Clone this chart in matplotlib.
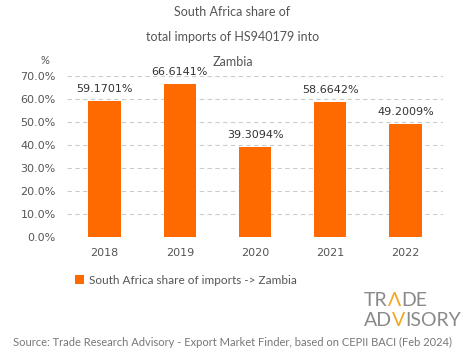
import matplotlib.pyplot as plt
from matplotlib.ticker import FuncFormatter
from matplotlib.offsetbox import TextArea, HPacker, AnnotationBbox

years = ["2018", "2019", "2020", "2021", "2022"]
shares = [59.1701, 66.6141, 39.3094, 58.6642, 49.2009]
bar_labels = ["59.1701%", "66.6141%", "39.3094%", "58.6642%", "49.2009%"]

orange = "#FF6A00"
grey = "#555555"

plt.rcParams["font.family"] = ["Lato", "DejaVu Sans"]

fig = plt.figure(figsize=(4.65, 3.59), dpi=100)
ax = fig.add_axes([67 / 465, 1 - 237 / 359, 376 / 465, 161 / 359])

x = range(len(years))
ax.bar(x, shares, width=0.43, color=orange, label="South Africa share of imports -> Zambia", zorder=3)
for i, v in enumerate(shares):
    ax.text(i, v + 3, bar_labels[i], ha="center", va="bottom", fontsize=8, color="#333333",
            family="DejaVu Sans")

ax.set_xlim(-0.5, 4.5)
ax.set_ylim(0, 70)
ax.set_yticks(range(0, 71, 10))
ax.yaxis.set_major_formatter(FuncFormatter(lambda v, p: f"{v:.1f}%"))
ax.set_xticks(list(x))
ax.set_xticklabels(years)
ax.tick_params(length=0, labelsize=8, colors=grey, pad=8)
for lab in ax.get_xticklabels() + ax.get_yticklabels():
    lab.set_family("DejaVu Sans")
ax.yaxis.grid(True, linestyle=(0, (4, 3)), color="#cccccc", linewidth=0.8, zorder=0)
for s in ax.spines.values():
    s.set_visible(False)

fig.text(0.5, 1 - 12 / 359, "South Africa share of", ha="center", va="center", fontsize=9, color=grey)
fig.text(0.5, 1 - 37 / 359, "total imports of HS940179 into", ha="center", va="center", fontsize=9, color=grey)
fig.text(0.5, 1 - 62 / 359, "Zambia", ha="center", va="center", fontsize=9, color=grey)
fig.text(45 / 465, 1 - 61 / 359, "%", ha="center", va="center", fontsize=8, color=grey)

ax.legend(loc="center left", bbox_to_anchor=(64 / 465, 1 - 280 / 359), bbox_transform=fig.transFigure,
          frameon=False, fontsize=8.5, handlelength=0.8, handleheight=0.8, handletextpad=0.4,
          labelcolor=grey)


# logo: two rows of text, one orange letter each
def logo_row(parts, x0, y, size):
    boxes = [TextArea(t, textprops=dict(color=c, fontsize=size)) for t, c in parts]
    row = HPacker(children=boxes, align="center", pad=0, sep=0)
    ab = AnnotationBbox(row, (x0, y), xycoords="figure fraction", box_alignment=(0, 0.5),
                        frameon=False)
    fig.add_artist(ab)


logo_grey = "#8a8a8a"
logo_orange = "#F5A623"
logo_row([("TR", logo_grey), ("\u039b", logo_orange), ("DE", logo_grey)], 364 / 465, 1 - 300 / 359, 14)
logo_row([("AD", logo_grey), ("V", logo_orange), ("ISORY", logo_grey)], 364 / 465, 1 - 320 / 359, 14)

fig.text(232 / 465, 1 - 342 / 359,
         "Source: Trade Research Advisory - Export Market Finder, based on CEPII BACI (Feb 2024)",
         ha="center", va="center", fontsize=8, color="#777777")

fig.savefig("out.png", dpi=100)
